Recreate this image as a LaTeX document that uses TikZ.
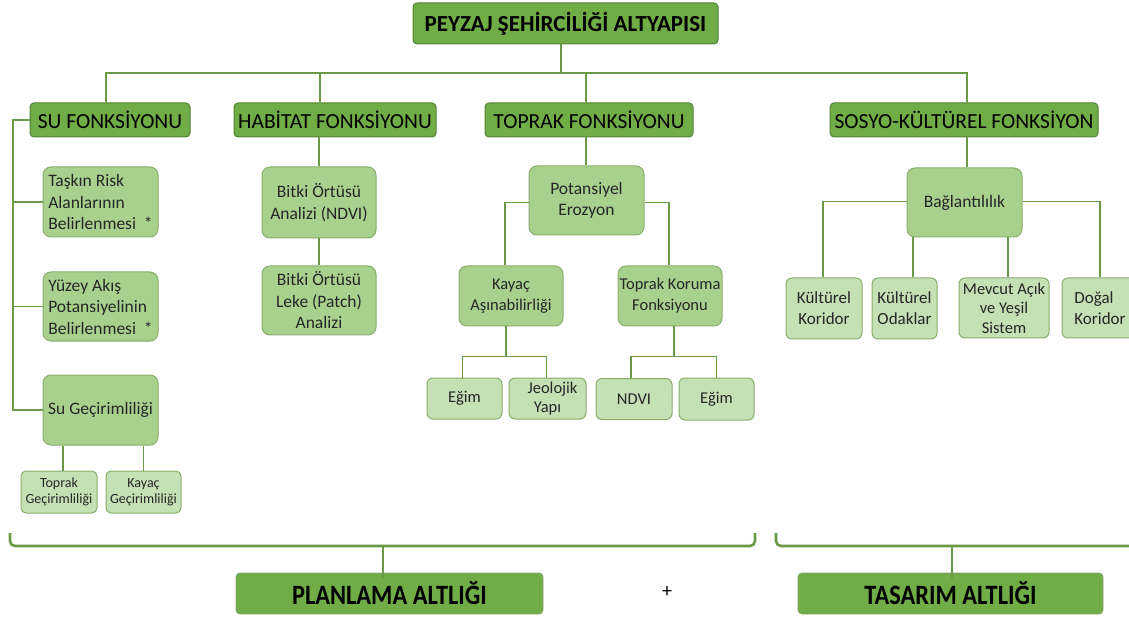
\documentclass[tikz,border=0pt]{standalone}
\usepackage{fontspec}
\setmainfont{Carlito}
\usetikzlibrary{calc}
\definecolor{dkfill}{HTML}{70AD47}
\definecolor{dkline}{HTML}{548235}
\definecolor{mdfill}{HTML}{A9D18E}
\definecolor{ltfill}{HTML}{C5E0B4}
\definecolor{edge}{HTML}{6A9A46}
\tikzset{
  head/.style={draw=dkline, line width=1pt, fill=dkfill, rounded corners=4pt,
    inner sep=0pt, font=\fontsize{21.5}{24}\selectfont, text=black},
  midbox/.style={draw=edge!80, line width=1pt, fill=mdfill, rounded corners=8pt,
    inner sep=0pt, align=center, font=\fontsize{17.5}{21.5}\selectfont, text=black!85},
  leafbox/.style={draw=edge!80, line width=1pt, fill=ltfill, rounded corners=6pt,
    inner sep=0pt, align=center, font=\fontsize{16.5}{19.5}\selectfont, text=black!85},
  tinybox/.style={leafbox, font=\fontsize{14}{15.5}\selectfont, rounded corners=5pt},
  base/.style={draw=dkline!70, line width=0.8pt, fill=dkfill, rounded corners=4pt,
    inner sep=0pt, text=black},
  link/.style={draw=edge, line width=1.5pt},
  brace/.style={draw=edge, line width=2.6pt, line join=round},
}
\begin{document}
\begin{tikzpicture}[x=1pt, y=-1pt]
\useasboundingbox[fill=white] (0,0) rectangle (1129,617);

% top level
\node[head, minimum width=305pt, minimum height=41pt, font=\fontsize{23}{26}\selectfont\bfseries] (title) at (565.5,23.5) {PEYZAJ ŞEHİRCİLİĞİ ALTYAPISI};

% functions
\node[head, minimum width=160pt, minimum height=34pt] (su)  at (110,120) {SU FONKSİYONU};
\node[head, minimum width=202pt, minimum height=34pt] (hab) at (335,120) {HABİTAT FONKSİYONU};
\node[head, minimum width=208pt, minimum height=34pt] (top) at (589,120) {TOPRAK FONKSİYONU};
\node[head, minimum width=268pt, minimum height=34pt] (sos) at (964,120) {SOSYO-KÜLTÜREL FONKSİYON};

% water
\node[midbox, minimum width=115pt, minimum height=70pt, align=left] (task) at (100.5,202) {Taşkın Risk\\\hspace*{0pt}Alanlarının\\Belirlenmesi~~*};
\node[midbox, minimum width=115pt, minimum height=69pt, align=left] (yuz) at (100.5,306.5) {Yüzey Akış\\Potansiyelinin\\Belirlenmesi~~*};
\node[midbox, minimum width=115pt, minimum height=70pt] (sug) at (100.5,410) {Su Geçirimliliği};
\node[tinybox, minimum width=76pt, minimum height=42pt] (tg) at (59,492) {Toprak\\Geçirimliliği};
\node[tinybox, minimum width=75pt, minimum height=42pt] (kg) at (143.5,492) {Kayaç\\Geçirimliliği};

% habitat
\node[midbox, minimum width=114pt, minimum height=71pt] (bno) at (319,202.5) {Bitki Örtüsü\\Analizi (NDVI)};
\node[midbox, minimum width=114pt, minimum height=69pt] (blk) at (319,300.5) {Bitki Örtüsü\\Leke (Patch)\\Analizi};

% soil
\node[midbox, minimum width=115pt, minimum height=69pt] (pe) at (586.5,200.5) {Potansiyel\\Erozyon};
\node[midbox, minimum width=104pt, minimum height=60pt, font=\fontsize{16.5}{21}\selectfont] (ka) at (511,296) {Kayaç\\Aşınabilirliği};
\node[midbox, minimum width=104pt, minimum height=60pt, font=\fontsize{16.5}{21}\selectfont] (tk) at (670,296) {Toprak Koruma\\Fonksiyonu};
\node[leafbox, minimum width=75pt, minimum height=41pt] (e1) at (464.5,398.5) {Eğim};
\node[leafbox, minimum width=77pt, minimum height=41pt] (jy) at (547.5,398.5) {\hspace*{10pt}Jeolojik\\Yapı};
\node[leafbox, minimum width=76pt, minimum height=41pt] (ndvi) at (634,399) {NDVI};
\node[leafbox, minimum width=75pt, minimum height=42pt] (e2) at (716.5,399) {Eğim};

% socio-cultural
\node[midbox, minimum width=115pt, minimum height=69pt] (bag) at (964.5,202.5) {Bağlantılılık};
\node[leafbox, minimum width=76pt, minimum height=61pt, font=\fontsize{17}{21}\selectfont] (kk) at (824,308.5) {Kültürel\\Koridor};
\node[leafbox, minimum width=65pt, minimum height=61pt, font=\fontsize{17}{21}\selectfont] (ko) at (904.5,308.5) {Kültürel\\Odaklar};
\node[leafbox, minimum width=90pt, minimum height=60pt] (mv) at (1004,308) {Mevcut Açık\\ve Yeşil\\Sistem};
\node[leafbox, minimum width=76pt, minimum height=60pt, align=left, font=\fontsize{17}{21}\selectfont] (dk) at (1100,308) {Doğal\\Koridor};

% bases
\node[base, minimum width=307pt, minimum height=41pt] (plan) at (389.5,593.5) {\fontsize{28}{30}\selectfont\bfseries\scalebox{0.87}[1]{PLANLAMA ALTLIĞI}};
\node[base, minimum width=305pt, minimum height=41pt] (tas) at (950.5,593.5) {\fontsize{28}{30}\selectfont\bfseries\scalebox{0.87}[1]{TASARIM ALTLIĞI}};
\node[font=\fontsize{20}{22}\selectfont] (plus) at (667,592) {+};

% ---- connectors ----
\coordinate (hub) at (561,73);
\draw[link] (title.south -| hub) -- (hub);
\draw[link] ([xshift=-4pt]su.north) |- (hub) -| ([xshift=3pt]sos.north);
\draw[link] ([xshift=-15pt]hab.north) -- ([xshift=-15pt]hab.north |- hub);
\draw[link] ([xshift=-3pt]top.north) -- ([xshift=-3pt]top.north |- hub);

% water branch
\coordinate (sl) at (13,0);
\draw[link] (su.west) -| (sug.west -| sl) -- (sug.west);
\draw[link] (task.west) -- (task.west -| sl);
\draw[link] (yuz.west) -- (yuz.west -| sl);
\draw[link] ([xshift=4pt]tg.north) -- ([xshift=4pt]tg.north |- sug.south);
\draw[link] (kg.north) -- (kg.north |- sug.south);

% habitat branch
\draw[link] (hab.south -| bno.north) -- (bno.north);
\draw[link] (bno.south) -- (blk.north);

% soil branch
\draw[link] ([xshift=-3pt]top.south) -- ([xshift=-3pt]top.south |- pe.north);
\draw[link] ([yshift=-2pt]pe.west) -| ([xshift=-6pt]ka.north);
\draw[link] ([yshift=-2pt]pe.east) -| ([xshift=-1pt]tk.north);
\draw[link] ([xshift=-5pt]ka.south) -- ++(0,30) coordinate (kaj);
\draw[link] ([xshift=-2pt]e1.north) |- (kaj) -| ([xshift=-1pt]jy.north);
\draw[link] ([xshift=4pt]tk.south) -- ++(0,30) coordinate (tkj);
\draw[link] ([xshift=-3pt]ndvi.north) |- (tkj) -| (e2.north);

% socio-cultural branch
\draw[link] ([xshift=3pt]sos.south) -- ([xshift=3pt]sos.south |- bag.north);
\draw[link] ([yshift=1pt]bag.west) -| ([xshift=-1pt]kk.north);
\draw[link] ([yshift=1pt]bag.east) -| (dk.north);
\draw[link] ([xshift=8.5pt]ko.north) -- ([xshift=8.5pt]ko.north |- bag.south);
\draw[link] ([xshift=4pt]mv.north) -- ([xshift=4pt]mv.north |- bag.south);

% braces over the bases
\draw[brace] (10,533) -- (10,541) to[out=-90,in=180] (15,546) -- (750,546) to[out=0,in=-90] (755,541) -- (755,533);
\draw[brace] (776,533) -- (776,541) to[out=-90,in=180] (781,546) -- (1135,546);
\coordinate (bl) at (plan.north |- 0,546);
\coordinate (br) at (tas.north |- 0,546);
\draw[link, line width=2pt] ([xshift=-6.5pt]bl) -- ([xshift=-6.5pt,yshift=-5pt]plan.north);
\draw[link, line width=2pt] ([xshift=1.5pt]br) -- ([xshift=1.5pt,yshift=-5pt]tas.north);
\end{tikzpicture}
\end{document}
